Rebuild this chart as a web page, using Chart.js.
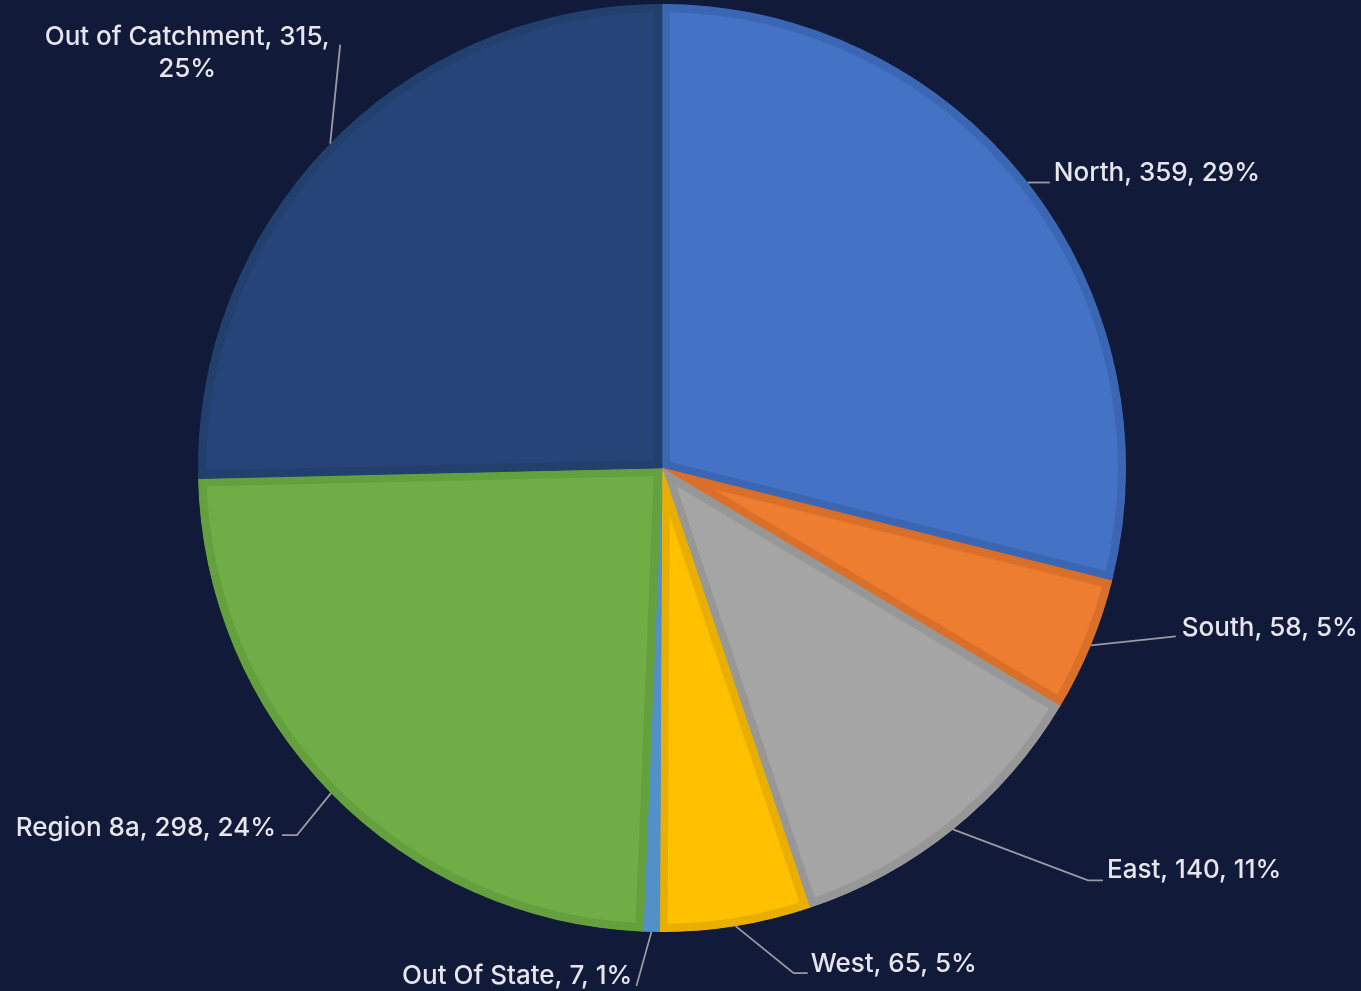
<!DOCTYPE html>
<html>
<head>
<meta charset="utf-8">
<script src="https://cdn.jsdelivr.net/npm/chart.js@4"></script>
<style>
  html, body { margin: 0; padding: 0; background: #121a3a; }
  #wrap { width: 1361px; height: 991px; }
</style>
</head>
<body>
<div id="wrap"><canvas id="pie" width="1361" height="991"></canvas></div>
<script>
const regions = ['North', 'South', 'East', 'West', 'Out Of State', 'Region 8a', 'Out of Catchment'];
const counts = [359, 58, 140, 65, 7, 298, 315];
const percents = [29, 5, 11, 5, 1, 24, 25];

const fillColors = ['#4472c4', '#ed7d31', '#a5a5a5', '#ffc000', '#5b9bd5', '#70ad47', '#264478'];
const edgeColors = ['#3b66b3', '#d96f29', '#979797', '#e9af00', '#5190c9', '#64a03d', '#22406e'];

// leader line layout: elbow offset from the slice edge, tail length, text placement
const labelLayout = [
    { elbow: [0, 0], tail: 22, align: 'left', tx: 4, ty: -9 },
    { elbow: [85, -9], tail: 0, align: 'left', tx: 6, ty: -8 },
    { elbow: [135, 51], tail: 15, align: 'left', tx: 4, ty: -10 },
    { elbow: [58, 47], tail: 14, align: 'left', tx: 3, ty: -9 },
    { elbow: [-15, 54], tail: 0, align: 'right', tx: -4, ty: -10 },
    { elbow: [-34, 42], tail: -15, align: 'right', tx: -6, ty: -7 },
    { elbow: [10, -99], tail: 0, align: 'center', tx: -153, ty: -7, wrap: true }
];

const leaderLabels = {
    id: 'leaderLabels',
    afterDraw(chart) {
        const ctx = chart.ctx;
        const arcs = chart.getDatasetMeta(0).data;
        ctx.save();
        ctx.font = '500 26px Inter, Roboto, sans-serif';
        ctx.textBaseline = 'middle';
        arcs.forEach((arc, i) => {
            const lay = labelLayout[i];
            const mid = (arc.startAngle + arc.endAngle) / 2;
            const ex = arc.x + Math.cos(mid) * arc.outerRadius;
            const ey = arc.y + Math.sin(mid) * arc.outerRadius;
            const bx = ex + lay.elbow[0];
            const by = ey + lay.elbow[1];
            const tx = bx + lay.tail;
            ctx.strokeStyle = '#9a9aa4';
            ctx.lineWidth = 1.8;
            ctx.beginPath();
            ctx.moveTo(ex, ey);
            ctx.lineTo(bx, by);
            ctx.lineTo(tx, by);
            ctx.stroke();
            ctx.fillStyle = '#e6e6ee';
            ctx.textAlign = lay.align;
            const x = tx + lay.tx;
            const y = by + lay.ty;
            if (lay.wrap) {
                ctx.fillText(regions[i] + ', ' + counts[i] + ',', x, y);
                ctx.fillText(percents[i] + '%', x, y + 32);
            } else {
                ctx.fillText(regions[i] + ', ' + counts[i] + ', ' + percents[i] + '%', x, y);
            }
        });
        ctx.restore();
    }
};

const ctx = document.getElementById('pie').getContext('2d');
const chart = new Chart(ctx, {
    type: 'pie',
    data: {
        labels: regions,
        datasets: [{
            data: counts,
            backgroundColor: fillColors,
            borderColor: edgeColors,
            borderWidth: 8,
            borderAlign: 'inner',
            hoverOffset: 0
        }]
    },
    options: {
        responsive: false,
        animation: false,
        layout: {
            padding: { left: 198, right: 235, top: 4, bottom: 59 }
        },
        plugins: {
            legend: { display: false },
            tooltip: { enabled: false }
        }
    },
    plugins: [leaderLabels]
});
</script>
</body>
</html>
